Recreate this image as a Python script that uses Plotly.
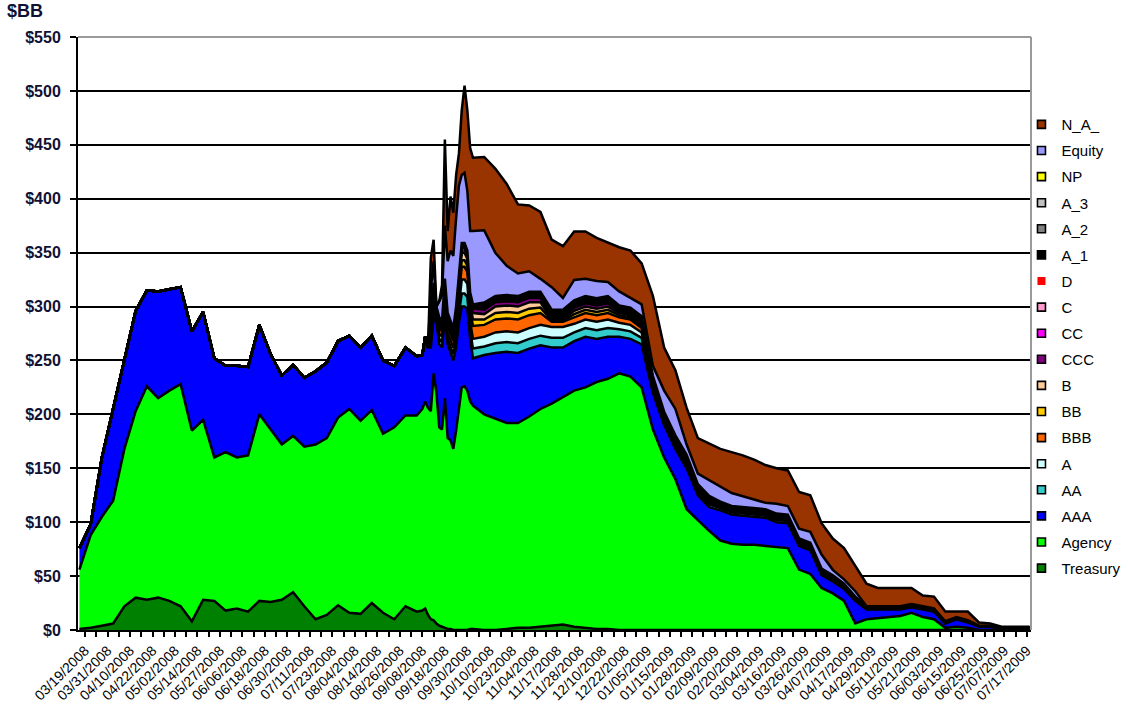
import plotly.graph_objects as go
import pandas as pd
from pandas.tseries.holiday import USFederalHolidayCalendar
from pandas.tseries.offsets import CustomBusinessDay

# Business-day calendar (weekends + US federal holidays removed)
BDAY = CustomBusinessDay(calendar=USFederalHolidayCalendar())
calendar_days = pd.date_range("2008-03-17", "2009-07-31", freq=BDAY)

date_labels = ["03/19/2008", "03/31/2008", "04/10/2008", "04/22/2008", "05/02/2008", "05/14/2008",
               "05/27/2008", "06/06/2008", "06/18/2008", "06/30/2008", "07/11/2008", "07/23/2008",
               "08/04/2008", "08/14/2008", "08/26/2008", "09/08/2008", "09/18/2008", "09/30/2008",
               "10/10/2008", "10/23/2008", "11/04/2008", "11/17/2008", "11/28/2008", "12/10/2008",
               "12/22/2008", "01/05/2009", "01/15/2009", "01/28/2009", "02/09/2009", "02/20/2009",
               "03/04/2009", "03/16/2009", "03/26/2009", "04/07/2009", "04/17/2009", "04/29/2009",
               "05/11/2009", "05/21/2009", "06/03/2009", "06/15/2009", "06/25/2009", "07/07/2009",
               "07/17/2009"]

# sample positions: business days since 03/17/2008
day = [0, 4, 8, 12, 16, 20, 24, 28, 32, 36, 40, 44, 48, 52, 56, 60, 64, 68, 72, 76, 80, 84, 88, 92, 96,
       100, 104, 108, 112, 116, 120,
       122, 123, 124, 125, 126, 127, 128, 129, 130, 131, 132, 133, 134, 135, 136, 137, 138, 139, 140,
       144, 148, 152, 156, 160, 164, 168, 172, 176, 180, 184, 188, 192, 196, 200, 204, 208, 212, 216,
       220, 224, 228, 232, 236, 240, 244, 248, 252, 256, 260, 264, 268, 272, 276, 280, 284, 288, 292,
       296, 300, 304, 308, 312, 316, 320, 324, 328, 332, 336,
       338]

treasury = [1, 2, 4, 6, 22, 30, 28, 30, 27, 22, 8, 28, 27, 18, 20, 17, 27, 26, 28, 35, 22, 10, 14, 23, 16, 15, 25, 16, 10, 22, 17,
            18, 20, 14, 10, 9, 6, 4, 3, 2, 1, 1, 0, 0, 0, 0, 0, 0, 1, 1,
            0, 0, 1, 2, 2, 3, 4, 5, 3, 2, 1, 1, 0, 0, 0, 0, 0, 0, 0, 0, 0, 0, 0, 0, 0, 0, 0, 0, 0, 0,
            0, 0, 0, 0, 0, 0, 0, 0, 0, 0, 0, 0, 0, 0, 0, 0, 0, 0, 0,
            0]
agency = [55, 86, 101, 114, 146, 173, 198, 185, 195, 206, 177, 167, 133, 147, 140, 145, 173, 160, 144, 145,
          148, 162, 164, 174, 189, 179, 179, 166, 178, 177, 182,
          187, 192, 192, 193, 229, 214, 184, 183, 213, 177, 175, 168, 185, 205, 225, 226, 222, 211, 207,
          200, 196, 191, 190, 196, 202, 206, 211, 219, 223, 229, 232, 238, 235, 225, 186, 160, 140, 112, 102,
          92, 83, 80, 79, 79, 78, 77, 76, 56, 52, 39, 34, 27, 6, 10, 11, 12, 13, 16, 12, 10, 2, 3, 2, 0, 0, 0, 0, 0,
          0]
aaa = [20, 10, 55, 85, 84, 93, 89, 99, 94, 90, 92, 100, 92, 80, 85, 82, 83, 70, 64, 66, 64, 68, 70, 71, 68,
       68, 69, 68, 57, 63, 55,
       50, 60, 56, 59, 52, 65, 77, 76, 75, 87, 82, 82, 77, 80, 75, 74, 76, 58, 44,
       55, 61, 66, 65, 63, 59, 52, 46, 46, 47, 40, 39, 34, 35, 40, 34, 30, 28, 38, 23, 22, 28, 27, 27, 26, 26,
       23, 23, 22, 22, 12, 11, 11, 21, 9, 8, 7, 6, 5, 7, 7, 4, 7, 5, 3, 3, 1.5, 1, 1,
       1]
aa = [0, 0, 0, 0, 0, 0, 0, 0, 0, 0, 0, 0, 0, 0, 0, 0, 0, 0, 0, 0, 0, 0, 0, 0, 0, 0, 0, 0, 0, 0, 0,
      0, 0, 0, 5, 6, 4, 5, 5, 6, 5, 5, 6, 7, 9, 12, 12, 11, 8, 9,
      8, 9, 9, 9, 9, 9, 9, 9, 8, 8, 8, 8, 7, 7, 6, 4, 3, 3, 3, 2.5, 2.5, 2, 2, 2, 2, 2, 2, 2, 1.5, 1.5,
      1.2, 1.2, 1, 0.8, 0.5, 0.5, 0.5, 0.5, 0.5, 0.5, 0.5, 0.3, 0.3, 0.3, 0.2, 0.2, 0.2, 0.2, 0.2,
      0.2]
a_rating = [0, 0, 0, 0, 0, 0, 0, 0, 0, 0, 0, 0, 0, 0, 0, 0, 0, 0, 0, 0, 0, 0, 0, 0, 0, 0, 0, 0, 0, 0, 0,
            0, 0, 0, 5, 5, 3, 5, 5, 6, 5, 6, 6, 8, 10, 13, 13, 12, 8, 9,
            9, 10, 10, 10, 10, 10, 10, 10, 8, 8, 8, 8, 6, 6, 5, 3, 2, 2, 2, 1.5, 1.5, 1, 1, 1, 1, 1, 1, 1, 1, 1,
            0.8, 0.8, 0.6, 0.5, 0.4, 0.4, 0.4, 0.4, 0.4, 0.4, 0.4, 0.3, 0.3, 0.3, 0.1, 0.1, 0.1, 0.1, 0.1,
            0.1]
bbb = [0, 0, 0, 0, 0, 0, 0, 0, 0, 0, 0, 0, 0, 0, 0, 0, 0, 0, 0, 0, 0, 0, 0, 0, 0, 0, 0, 0, 0, 0, 0,
       0, 0, 0, 5, 6, 3, 5, 5, 6, 6, 6, 6, 8, 10, 12, 12, 11, 10, 12,
       11, 12, 12, 12, 12, 11, 5, 5, 6, 6, 6, 6, 5, 5, 4, 2, 1.5, 1.5, 1.5, 1, 1, 0.8, 0.8, 0.8, 0.8, 0.8, 0.8, 0.8, 0.8, 0.8,
       0.7, 0.7, 0.6, 0.5, 0.3, 0.3, 0.3, 0.3, 0.3, 0.3, 0.3, 0.2, 0.2, 0.2, 0.1, 0.1, 0.1, 0.1, 0.1,
       0.1]
bb = [0, 0, 0, 0, 0, 0, 0, 0, 0, 0, 0, 0, 0, 0, 0, 0, 0, 0, 0, 0, 0, 0, 0, 0, 0, 0, 0, 0, 0, 0, 0,
      0, 0, 0, 3, 3, 2, 2, 2, 3, 3, 3, 3, 4, 5, 6, 6, 6, 5, 6,
      5, 6, 6, 6, 6, 5, 1, 1, 3, 3, 3, 3, 2, 2, 2, 1, 0.5, 0.5, 0.5, 0.5, 0.5, 0.4, 0.4, 0.4, 0.4, 0.4, 0.4, 0.4, 0.4, 0.4,
      0.3, 0.3, 0.3, 0.2, 0.2, 0.2, 0.2, 0.2, 0.2, 0.2, 0.2, 0.1, 0.1, 0.1, 0, 0, 0, 0, 0,
      0]
b_rating = [0, 0, 0, 0, 0, 0, 0, 0, 0, 0, 0, 0, 0, 0, 0, 0, 0, 0, 0, 0, 0, 0, 0, 0, 0, 0, 0, 0, 0, 0, 0,
            0, 0, 0, 3, 3, 1, 2, 2, 3, 3, 3, 3, 4, 5, 7, 7, 6, 5, 6,
            5, 6, 6, 6, 6, 5, 1, 1, 3, 3, 3, 3, 2, 2, 2, 1, 1, 1, 1, 1, 1, 0.8, 0.8, 0.8, 0.8, 0.8, 0.8, 0.8, 0.6, 0.6,
            0.5, 0.5, 0.4, 0.3, 0.2, 0.2, 0.2, 0.2, 0.2, 0.2, 0.2, 0.1, 0.1, 0.1, 0.1, 0.1, 0.1, 0.1, 0.1,
            0.1]
ccc = [0, 0, 0, 0, 0, 0, 0, 0, 0, 0, 0, 0, 0, 0, 0, 0, 0, 0, 0, 0, 0, 0, 0, 0, 0, 0, 0, 0, 0, 0, 0,
       0, 0, 0, 2, 2, 1, 1, 1, 2, 2, 2, 2, 3, 4, 5, 5, 4, 3, 4,
       4, 4, 4, 4, 4, 4, 1, 1, 3, 3, 3, 3, 2, 2, 2, 1, 1, 1, 1, 0.8, 0.8, 0.6, 0.6, 0.6, 0.6, 0.6, 0.6, 0.6, 0.6, 0.6,
       0.5, 0.5, 0.4, 0.3, 0.2, 0.2, 0.2, 0.2, 0.2, 0.2, 0.2, 0.1, 0.1, 0.1, 0, 0, 0, 0, 0,
       0]
cc = [0, 0, 0, 0, 0, 0, 0, 0, 0, 0, 0, 0, 0, 0, 0, 0, 0, 0, 0, 0, 0, 0, 0, 0, 0, 0, 0, 0, 0, 0, 0,
      0, 0, 0, 0, 0, 0, 0, 0, 0, 0.5, 0.5, 0.5, 0.5, 0.5, 0.5, 0.5, 0.5, 0.5, 0.5,
      1, 1, 1, 1, 1, 1, 0.5, 0.5, 1, 1, 1, 1, 0.5, 0.5, 0.5, 0.3, 0.3, 0.3, 0.3, 0.3,
      0.3, 0.3, 0.3, 0.3, 0.3, 0.3, 0.3, 0.3, 0.3, 0.3, 0.2, 0.2, 0.2, 0.1, 0.1, 0.1, 0.1, 0.1, 0.1, 0.1,
      0.1, 0.1, 0.1, 0.1, 0, 0, 0, 0, 0,
      0]
c_rating = [0, 0, 0, 0, 0, 0, 0, 0, 0, 0, 0, 0, 0, 0, 0, 0, 0, 0, 0, 0, 0, 0, 0, 0, 0, 0, 0, 0, 0, 0, 0,
            0, 0, 0, 0, 0, 0, 0, 0, 0, 0.3, 0.3, 0.3, 0.3, 0.3, 0.3, 0.3, 0.3, 0.3, 0.3,
            0.5, 0.5, 0.5, 0.5, 0.5, 0.5, 0.3, 0.3, 0.5, 0.5, 0.5, 0.5, 0.3, 0.3, 0.3, 0.2, 0.2, 0.2, 0.2, 0.2,
            0.2, 0.2, 0.2, 0.2, 0.2, 0.2, 0.2, 0.2, 0.2, 0.2, 0.2, 0.2, 0.1, 0.1, 0.1, 0.1, 0.1, 0.1, 0.1, 0.1,
            0.1, 0.1, 0.1, 0.1, 0, 0, 0, 0, 0,
            0]
d_rating = [0, 0, 0, 0, 0, 0, 0, 0, 0, 0, 0, 0, 0, 0, 0, 0, 0, 0, 0, 0, 0, 0, 0, 0, 0, 0, 0, 0, 0, 0, 0,
            0, 0, 0, 0, 0, 0, 0, 0, 0, 0.1, 0.1, 0.1, 0.1, 0.1, 0.1, 0.1, 0.1, 0.1, 0.1,
            0.2, 0.2, 0.2, 0.2, 0.2, 0.2, 0.2, 0.2, 0.2, 0.2, 0.2, 0.2, 0.2, 0.2, 0.2, 0.1, 0.1, 0.1, 0.1, 0.1,
            0.1, 0.1, 0.1, 0.1, 0.1, 0.1, 0.1, 0.1, 0.1, 0.1, 0.1, 0.1, 0.1, 0.1, 0, 0, 0, 0, 0, 0,
            0, 0, 0, 0, 0, 0, 0, 0, 0,
            0]
a_1 = [0, 0, 0, 0, 0, 0, 0, 0, 0, 0, 0, 0, 0, 0, 0, 0, 0, 0, 0, 0, 0, 0, 0, 0, 0, 0, 0, 0, 0, 0, 0,
       0, 0, 0, 10, 7, 1, 5, 5, 10, 3, 2, 2, 2, 2, 2, 2, 2, 2, 2,
       3, 2, 2, 2, 2, 2, 5, 5, 3, 3, 3, 3, 2, 2, 2, 2, 2, 2, 2, 1.5, 1.5, 1, 1, 1, 1, 1, 1, 1, 1, 1,
       1, 1, 1, 0.8, 0.8, 0.8, 0.8, 0.8, 0.8, 0.8, 0.8, 0.6, 0.6, 0.6, 0.5, 0.5, 0.5, 0.5, 0.5,
       0.5]
a_2 = [0, 0, 0, 0, 0, 0, 0, 0, 0, 0, 0, 0, 0, 0, 0, 0, 0, 0, 0, 0, 0, 0, 0, 0, 0, 0, 0, 0, 0, 0, 0,
       0, 0, 0, 0, 0, 0, 0, 0, 0, 0.3, 0.3, 0.3, 0.3, 0.3, 0.3, 0.3, 0.3, 0.3, 0.3,
       0.5, 0.5, 0.5, 0.5, 0.5, 0.5, 0.5, 0.5, 0.5, 0.5, 0.5, 0.5, 0.5, 0.5, 0.5, 0.3, 0.3, 0.3, 0.3, 0.3,
       0.3, 0.2, 0.2, 0.2, 0.2, 0.2, 0.2, 0.2, 0.1, 0.1, 0.1, 0.1, 0.1, 0.1, 0.1, 0.1, 0.1, 0.1, 0.1, 0.1,
       0.1, 0.1, 0.1, 0.1, 0, 0, 0, 0, 0,
       0]
a_3 = [0, 0, 0, 0, 0, 0, 0, 0, 0, 0, 0, 0, 0, 0, 0, 0, 0, 0, 0, 0, 0, 0, 0, 0, 0, 0, 0, 0, 0, 0, 0,
       0, 0, 0, 0, 0, 0, 0, 0, 0, 0.3, 0.3, 0.3, 0.3, 0.3, 0.3, 0.3, 0.3, 0.3, 0.3,
       0.5, 0.5, 0.5, 0.5, 0.5, 0.5, 0.5, 0.5, 0.5, 0.5, 0.5, 0.5, 0.5, 0.5, 0.5, 0.2, 0.2, 0.2, 0.2, 0.2,
       0.2, 0.2, 0.2, 0.2, 0.2, 0.2, 0.2, 0.2, 0.1, 0.1, 0.1, 0.1, 0.1, 0.1, 0.1, 0.1, 0.1, 0.1, 0.1, 0.1,
       0.1, 0.1, 0.1, 0.1, 0, 0, 0, 0, 0,
       0]
np_ = [0, 0, 0, 0, 0, 0, 0, 0, 0, 0, 0, 0, 0, 0, 0, 0, 0, 0, 0, 0, 0, 0, 0, 0, 0, 0, 0, 0, 0, 0, 0,
       0, 0, 0, 0, 0, 0, 0, 0, 0, 0.5, 0.5, 0.5, 0.5, 0.5, 0.5, 0.5, 0.5, 0.5, 0.5,
       1, 1, 1, 1, 1, 1, 1, 1, 1, 1, 1, 1, 1, 1, 1, 0.4, 0.4, 0.4, 0.4, 0.4,
       0.4, 0.4, 0.4, 0.4, 0.4, 0.4, 0.4, 0.4, 0.3, 0.3, 0.3, 0.1, 0.1, 0.1, 0, 0, 0, 0, 0, 0,
       0, 0, 0, 0, 0, 0, 0, 0, 0,
       0]
equity = [0, 0, 0, 0, 0, 0, 0, 0, 0, 0, 0, 0, 0, 0, 0, 0, 0, 0, 0, 0, 0, 0, 0, 0, 0, 0, 0, 0, 0, 0, 0,
          0, 0, 0, 20, 20, 0, 15, 23, 49, 48, 65, 67, 82, 80, 63, 65, 55, 57, 68,
          67, 40, 27, 21, 19, 12, 21, 11, 19, 16, 16, 13, 13, 9, 11, 9.5, 19.5, 24.5, 9.5, 9.7,
          14.7, 14, 12, 10, 8, 6, 9, 8, 9, 10, 13, 5, 4, 5, 0, 0, 0, 0, 0, 0,
          0, 0, 0, 0, 0, 0, 0, 0, 0,
          0]
n_a = [0, 0, 0, 0, 0, 0, 0, 0, 0, 0, 0, 0, 0, 0, 0, 0, 0, 0, 0, 0, 0, 0, 0, 0, 0, 0, 0, 0, 0, 0, 0,
       0, 0, 0, 30, 20, 0, 0, 10, 80, 28, 50, 40, 40, 30, 60, 81, 75, 77, 68,
       68, 78, 76, 64, 61, 62, 44, 48, 45, 44, 40, 37, 41, 44, 38, 65, 40, 36, 34, 33,
       34, 35, 38, 38, 37, 35, 33, 33, 34, 34, 29, 29, 29, 24, 21, 17, 17, 17, 15, 10,
       11, 9, 5, 8, 3, 2, 0.5, 1, 1,
       1]

# bottom-to-top stacking order
series = [
    ("Treasury", treasury, "#008000"),
    ("Agency", agency, "#00FF00"),
    ("AAA", aaa, "#0000FF"),
    ("AA", aa, "#33CCCC"),
    ("A", a_rating, "#CCFFFF"),
    ("BBB", bbb, "#FF6600"),
    ("BB", bb, "#FFCC00"),
    ("B", b_rating, "#FFCC99"),
    ("CCC", ccc, "#800080"),
    ("CC", cc, "#FF00FF"),
    ("C", c_rating, "#FF99CC"),
    ("D", d_rating, "#FF0000"),
    ("A_1", a_1, "#000000"),
    ("A_2", a_2, "#808080"),
    ("A_3", a_3, "#C0C0C0"),
    ("NP", np_, "#FFFF00"),
    ("Equity", equity, "#9999FF"),
    ("N_A_", n_a, "#993300"),
]
for name, vals, _ in series:
    assert len(vals) == len(day), (name, len(vals))

fig = go.Figure()
for name, vals, color in series:
    fig.add_trace(go.Scatter(
        x=day, y=vals, name=name, mode="lines", stackgroup="one",
        line=dict(color="black", width=2.5), fillcolor=color,
        showlegend=False, hoverinfo="skip"))

# legend entries (top to bottom)
for name, _, color in reversed(series):
    fig.add_trace(go.Scatter(
        x=[None], y=[None], mode="markers", name=name, legendgroup=name,
        marker=dict(symbol="square", size=8, color=color,
                    line=dict(color=color if name == "D" else "black", width=0 if name == "D" else 1.6)),
        showlegend=True, hoverinfo="skip"))

# x ticks: labelled every 8 business days, extra tick marks halfway
label_pos = []
for k, s in enumerate(date_labels):
    try:
        label_pos.append(int(calendar_days.get_loc(pd.to_datetime(s, format="%m/%d/%Y"))))
    except KeyError:
        label_pos.append(2 + 8 * k)
tickvals, ticktext = [], []
for k, p in enumerate(label_pos):
    tickvals.append(p)
    ticktext.append(date_labels[k])
    if k < len(label_pos) - 1:
        tickvals.append((p + label_pos[k + 1]) / 2)
        ticktext.append("")

y_vals = list(range(0, 551, 50))
fig.update_layout(
    template="none",
    width=1128, height=718,
    paper_bgcolor="white", plot_bgcolor="white",
    margin=dict(l=78, r=97, t=37, b=88, autoexpand=False),
    font=dict(family="Arial, Liberation Sans, sans-serif", color="black"),
    showlegend=True,
    legend=dict(x=0.99, xanchor="left", y=0.88, yanchor="top",
                font=dict(size=15, color="black"), tracegroupgap=3.6,
                traceorder="grouped", bgcolor="rgba(0,0,0,0)", borderwidth=0),
    xaxis=dict(range=[-0.5, 338.5], tickmode="array", tickvals=tickvals, ticktext=ticktext,
               tickangle=-45, tickfont=dict(size=14, color="black"),
               ticks="outside", ticklen=5, tickwidth=1.5, tickcolor="black",
               showline=True, linecolor="black", linewidth=2, showgrid=False,
               zeroline=False, automargin=False),
    yaxis=dict(range=[0, 550], tickmode="array", tickvals=y_vals,
               ticktext=["$" + str(v) for v in y_vals],
               tickfont=dict(size=16, color="#111133", weight="bold"),
               ticks="outside", ticklen=6, tickwidth=2, tickcolor="black",
               ticklabelstandoff=6,
               showline=True, linecolor="black", linewidth=2,
               showgrid=True, gridcolor="black", gridwidth=2,
               zeroline=False, automargin=False),
    shapes=[
        dict(type="line", xref="paper", yref="paper", x0=0, x1=1, y0=1, y1=1,
             line=dict(color="#9a9a9a", width=2), layer="above"),
        dict(type="line", xref="paper", yref="paper", x0=1, x1=1, y0=0, y1=1,
             line=dict(color="#9a9a9a", width=2), layer="above"),
    ],
    annotations=[
        dict(text="<b>$BB</b>", xref="paper", yref="paper", x=-0.077, y=1.044,
             xanchor="left", yanchor="middle", showarrow=False,
             font=dict(size=18, color="#111133")),
    ],
)

fig.write_html("out.html", config={"displayModeBar": False},
               post_script="document.body.style.margin='0';document.body.style.overflow='hidden';")
